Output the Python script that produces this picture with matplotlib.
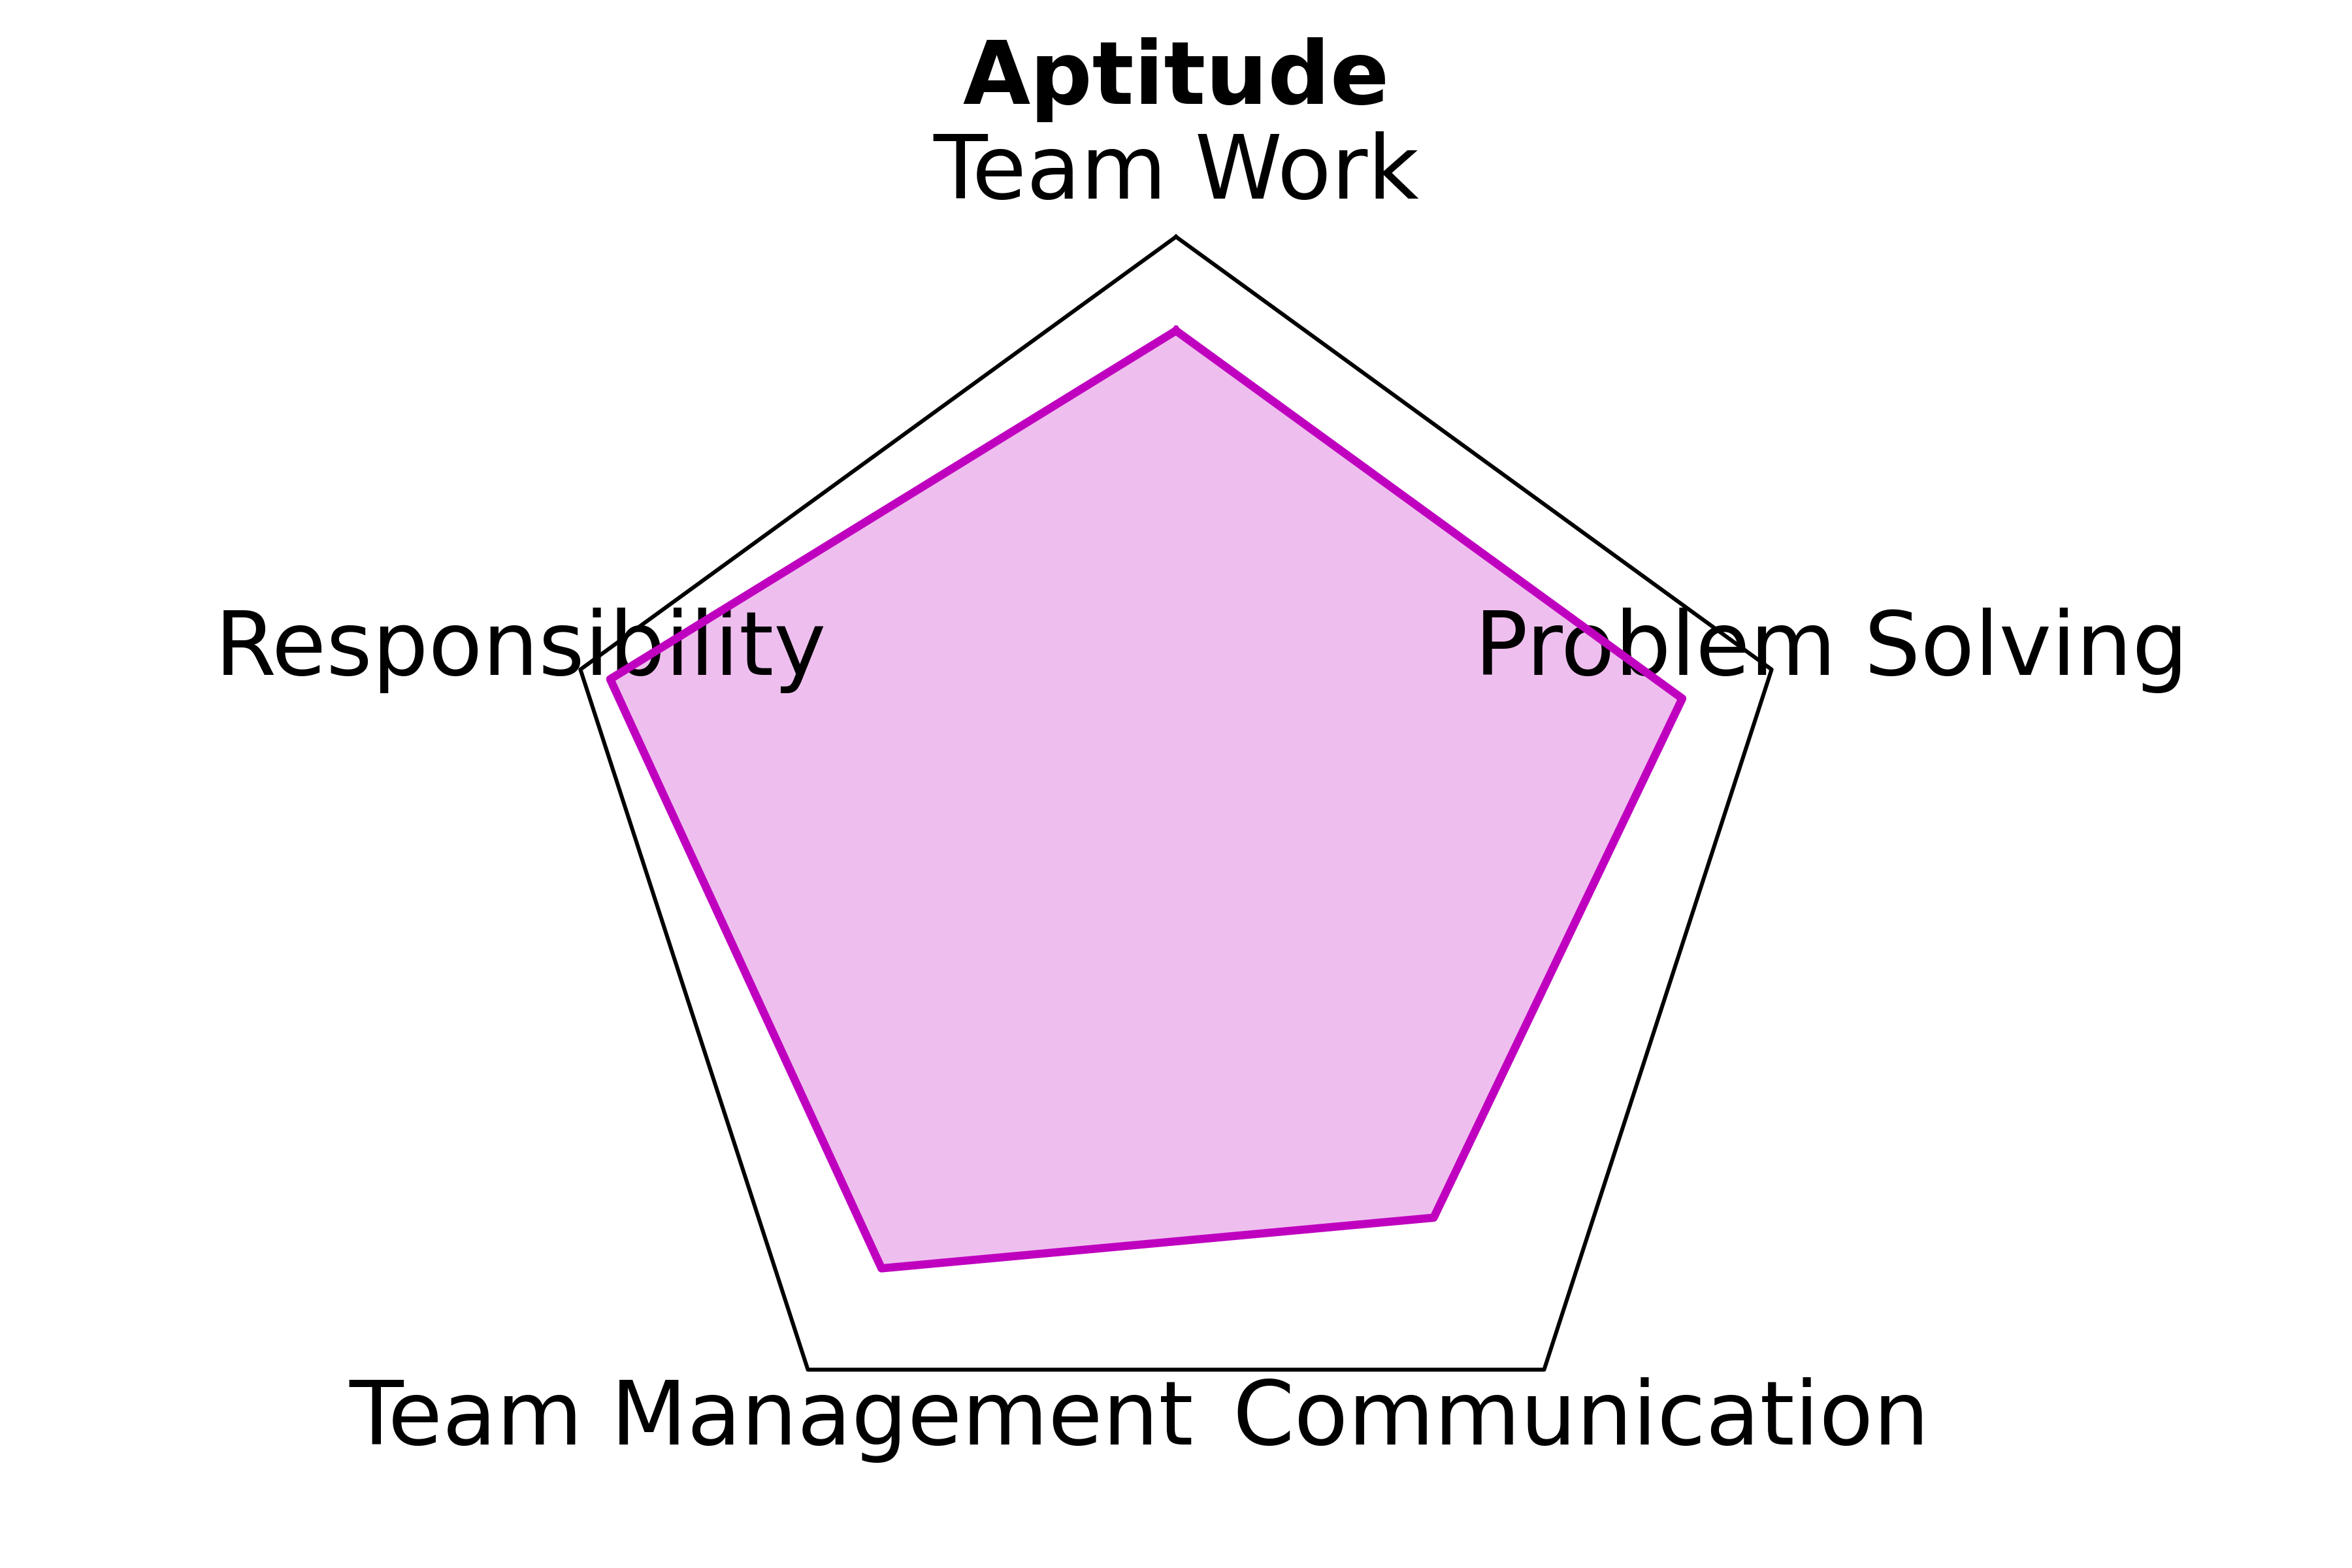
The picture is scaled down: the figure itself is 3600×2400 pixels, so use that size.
import numpy as np
import matplotlib.pyplot as plt

# Данные
categories = ['Team Work', 'Problem Solving', 'Communication', 'Team Management', 'Responsibility']
values = [0.85, 0.85, 0.70, 0.80, 0.95]
r_max = 1.0

# Углы осей
angles = np.linspace(0, 2 * np.pi, len(categories), endpoint=False)
angles_closed = np.concatenate([angles, angles[:1]])
values_closed = values + values[:1]

fig = plt.figure(figsize=(12, 8), dpi=300)
ax = fig.add_axes([0.2337, 0.0502, 0.5326, 0.7988], polar=True)
ax.set_theta_offset(np.pi / 2)
ax.set_theta_direction(-1)
ax.set_ylim(0, r_max)

# Рамка-пятиугольник вместо круга
ax.spines['polar'].set_visible(False)
ax.plot(angles_closed, [r_max] * len(angles_closed), color='black', linewidth=1.45, clip_on=False)

# Данные
ax.plot(angles_closed, values_closed, color='m', linewidth=3)
ax.fill(angles_closed, values_closed, color='m', alpha=0.25)

ax.grid(False)
ax.set_yticks([])
ax.set_thetagrids(np.degrees(angles), categories, fontsize=32.5)
ax.tick_params(axis='x', pad=12.5)

ax.set_title('Aptitude', fontsize=32, fontweight='bold', y=1.093, va='baseline')

plt.savefig('out.png', dpi=300)
